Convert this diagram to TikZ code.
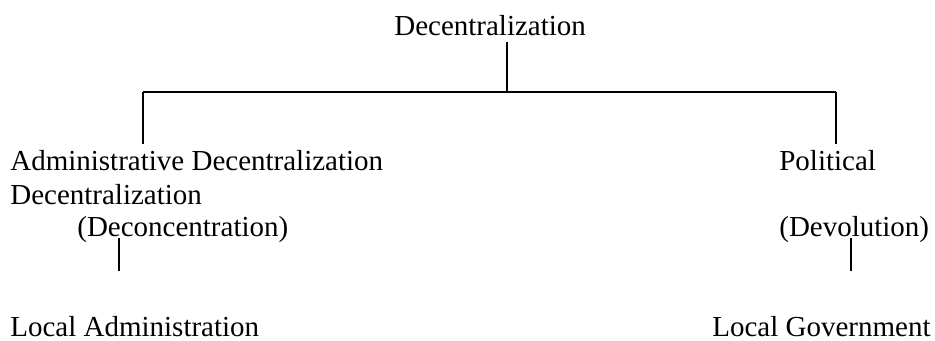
\documentclass[tikz,border=0pt]{standalone}
\usepackage{fontspec}
\setmainfont{Liberation Serif}
\usetikzlibrary{positioning}
\usetikzlibrary{calc}

\tikzset{
  label/.style={anchor=base west, inner sep=0pt, font=\fontsize{16.5pt}{20pt}\selectfont},
  tree/.style={line width=0.9pt}
}

\begin{document}
\begin{tikzpicture}
\useasboundingbox (0,0) rectangle (18.7,6.8);
\node[label] (dec) at (7.88,6.1) {Decentralization};
\node[label] (adm1) at (0.2,3.4) {Administrative Decentralization};
\node[label] (adm2) at (0.2,2.72) {Decentralization};
\node[label] (adm3) at (1.54,2.07) {(Deconcentration)};
\node[label] (pol1) at (15.58,3.4) {Political};
\node[label] (pol2) at (15.58,2.07) {(Devolution)};
\node[label] (locadm) at (0.2,0.08) {Local Administration};
\node[label] (locgov) at (14.24,0.08) {Local Government};
\coordinate (hub) at (10.14,4.96);
\coordinate (busL) at (2.86,4.96);
\coordinate (busR) at (16.72,4.96);
\coordinate (admstem) at (2.38,1.38);
\coordinate (polstem) at (17.02,1.38);
\draw[tree] ([yshift=-1.2mm]dec.south -| hub) -- (hub);
\draw[tree] (busL) -- (busR);
\draw[tree] (busL) -- ([yshift=1.2mm]busL |- adm1.north);
\draw[tree] (busR) -- ([yshift=1.2mm]busR |- pol1.north);
\draw[tree] ([yshift=-0.3mm]admstem |- adm3.base) -- (admstem);
\draw[tree] ([yshift=-0.3mm]polstem |- pol2.base) -- (polstem);
\end{tikzpicture}
\end{document}
